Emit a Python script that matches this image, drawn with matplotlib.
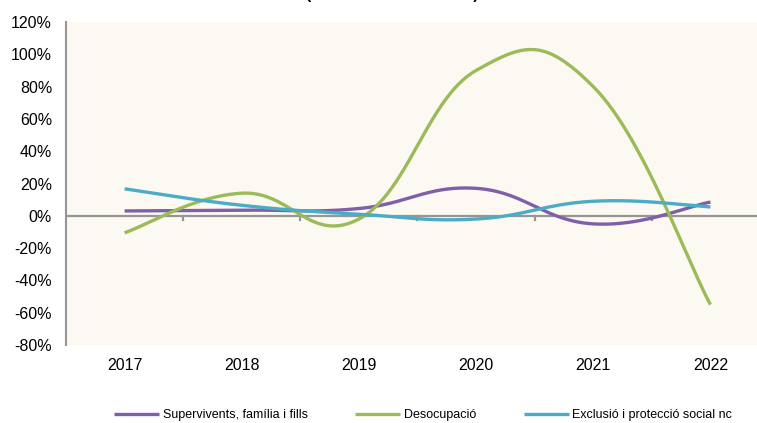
import numpy as np
import matplotlib
matplotlib.use('Agg')
import matplotlib.pyplot as plt
from matplotlib.ticker import FuncFormatter

plt.rcParams['font.family'] = ['Liberation Sans', 'DejaVu Sans']

years = ['2017', '2018', '2019', '2020', '2021', '2022']
supervivents = [3.0, 3.5, 4.5, 17.0, -5.0, 8.5]
desocupacio = [-10.5, 14.0, -2.0, 90.0, 80.0, -55.0]
exclusio = [16.7, 6.5, 1.0, -2.0, 9.0, 5.5]

series = [
    ('Supervivents, família i fills', supervivents, '#7f5fa8'),
    ('Desocupació', desocupacio, '#9bbb59'),
    ('Exclusió i protecció social nc', exclusio, '#4bacc6'),
]


# corba suavitzada tipus Excel (beziers entre punts)
def smooth(vals, f=0.21, steps=60):
    pts = np.column_stack([np.arange(len(vals)), np.array(vals, dtype=float)])
    n = len(pts)
    out = []
    for i in range(n - 1):
        p0 = pts[i]
        p3 = pts[i + 1]
        prev = pts[i - 1] if i > 0 else pts[i]
        nxt = pts[i + 2] if i + 2 < n else pts[i + 1]
        p1 = p0 + f * (p3 - prev)
        p2 = p3 - f * (nxt - p0)
        t = np.linspace(0, 1, steps)[:, None]
        seg = (1 - t) ** 3 * p0 + 3 * (1 - t) ** 2 * t * p1 + 3 * (1 - t) * t ** 2 * p2 + t ** 3 * p3
        out.append(seg if i == 0 else seg[1:])
    out = np.vstack(out)
    return out[:, 0], out[:, 1]


fig = plt.figure(figsize=(7.57, 4.23), dpi=100)
ax = fig.add_axes([66 / 757, (423 - 345) / 423, 703 / 757, 323 / 423])
ax.set_facecolor('#fcf8f2')

ax.set_xlim(-0.5, len(years) - 0.5)
ax.set_ylim(-80, 120)

# eix zero amb marques entre categories
ax.axhline(0, color='#969696', lw=1.6, zorder=2)
for b in np.arange(len(years) - 1) + 0.5:
    ax.plot([b, b], [0, -2.8], color='#969696', lw=1.6, zorder=2)

for label, vals, col in series:
    xs, ys = smooth(vals)
    ax.plot(xs, ys, color=col, lw=2.4, label=label, zorder=3, solid_capstyle='butt')

ax.set_yticks(np.arange(-80, 121, 20))
ax.yaxis.set_major_formatter(FuncFormatter(lambda v, p: f'{v:.0f}%'))
ax.set_xticks(range(len(years)))
ax.set_xticklabels(years)
ax.tick_params(axis='y', length=0, pad=10, labelsize=11.5, colors='#000000')
ax.tick_params(axis='x', length=0, pad=9, labelsize=11.5)

for s in ['top', 'right', 'bottom']:
    ax.spines[s].set_visible(False)
ax.spines['left'].set_color('#969696')
ax.spines['left'].set_linewidth(1.5)

# títol retallat a dalt
fig.text(392 / 757, 1 + 1.5 / 423, '(' + ' ' * 36 + ')', ha='center', va='baseline',
         fontsize=11.5, fontweight='bold')

fig.legend(loc='center', bbox_to_anchor=(423 / 757, (423 - 415) / 423), ncol=3,
           frameon=False, fontsize=9, handlelength=3.6, handletextpad=0.3,
           columnspacing=3.8)

fig.savefig('out.png', dpi=100)
